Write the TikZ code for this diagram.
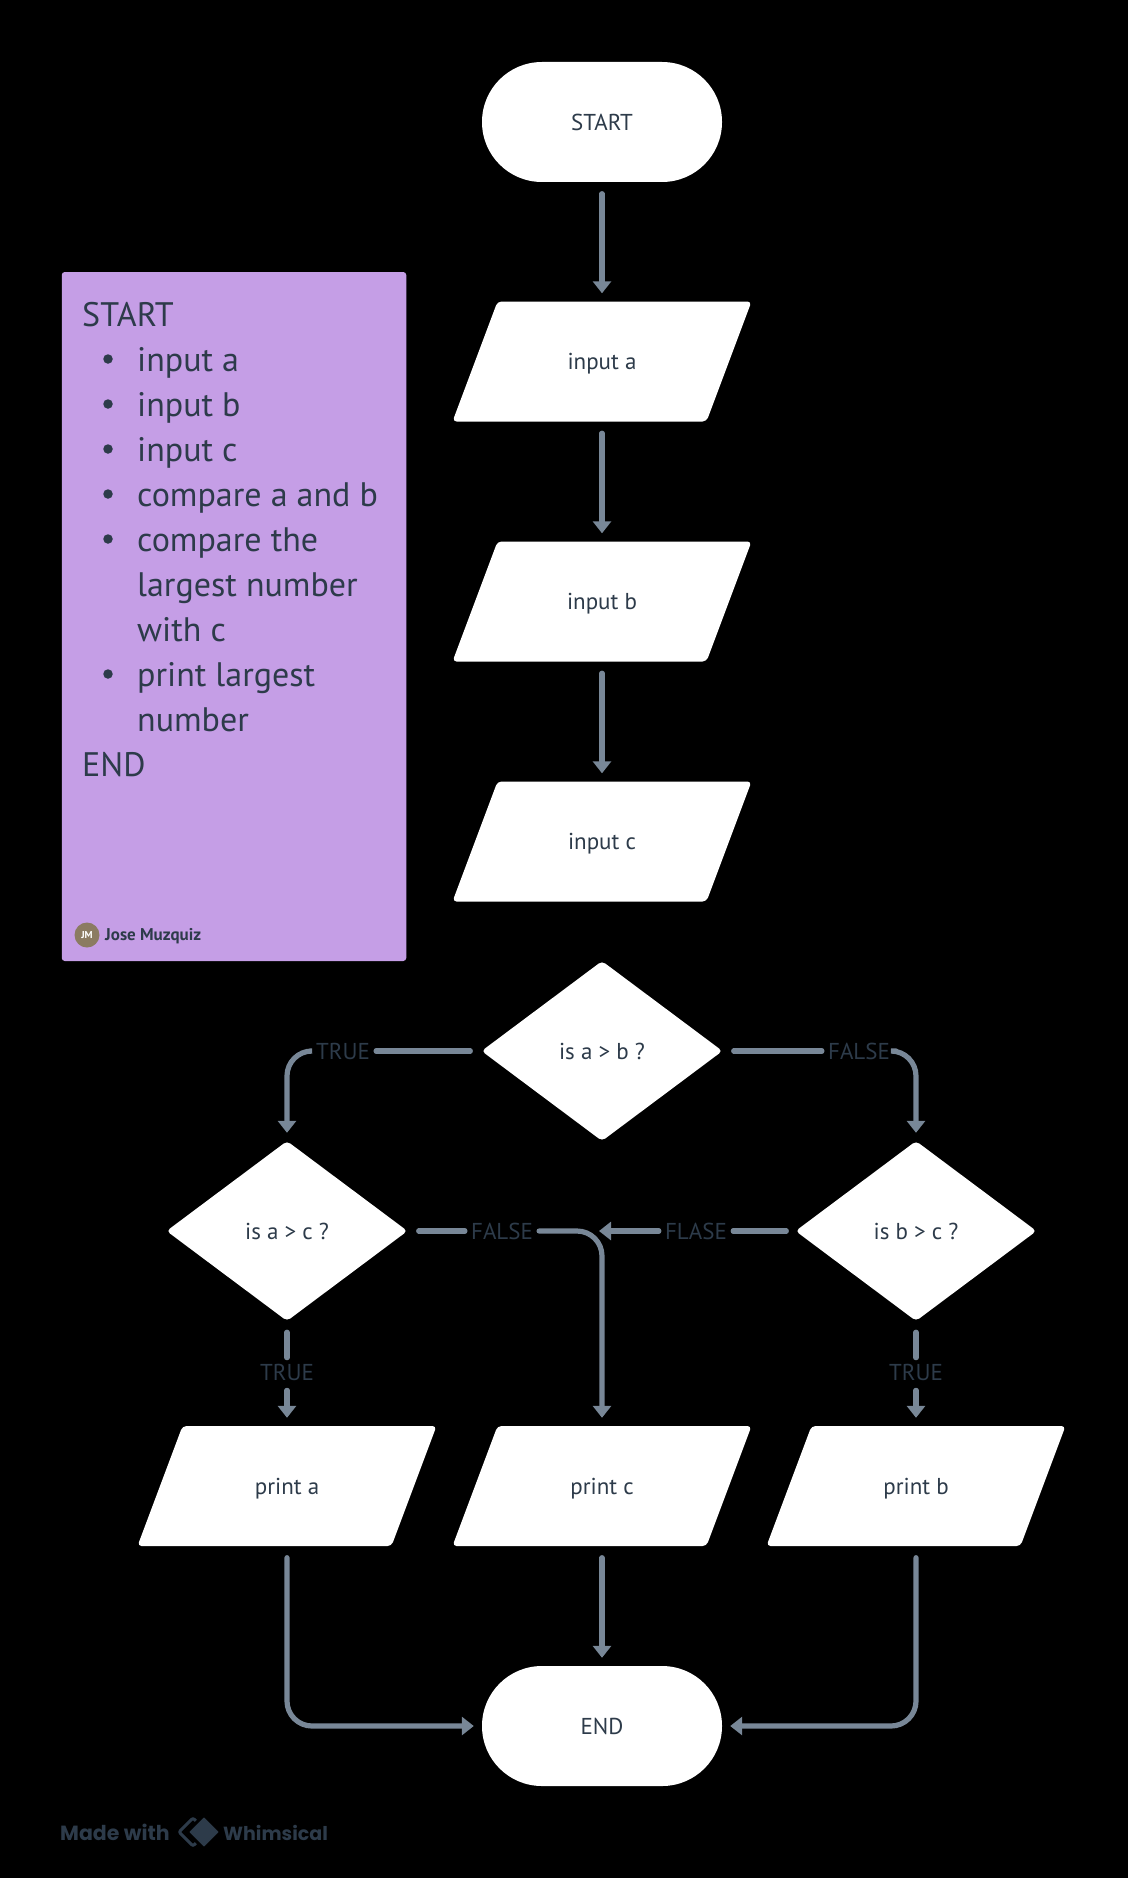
\documentclass[tikz,border=0pt]{standalone}
\usepackage{fontspec}
\setmainfont{PT Sans}
\newfontfamily\logofont{Poppins}
\usetikzlibrary{arrows.meta,shapes.geometric,calc}
\definecolor{ink}{HTML}{2D3B4A}
\definecolor{wire}{HTML}{788797}
\definecolor{lilac}{HTML}{C59EE6}
\definecolor{avatar}{HTML}{8B7B62}
\newcommand{\fs}[1]{\fontsize{#1}{#1}\selectfont}
\tikzset{
  x=1pt,y=-1pt,
  flowtext/.style={text=ink,font=\fs{23},text depth=0pt},
  terminal/.style={flowtext,shape=rectangle,fill=white,minimum width=240pt,minimum height=120pt,rounded corners=59.9pt,inner sep=0pt},
  iobox/.style={flowtext,shape=rectangle,minimum width=299pt,minimum height=120pt,inner sep=0pt,
    path picture={
      \fill[white,rounded corners=4pt]
        ([xshift=45pt]path picture bounding box.north west) --
        (path picture bounding box.north east) --
        ([xshift=-45pt]path picture bounding box.south east) --
        (path picture bounding box.south west) -- cycle;
    }},
  decision/.style={flowtext,shape=diamond,fill=white,minimum width=241pt,minimum height=180pt,inner sep=0pt,rounded corners=4pt},
  wirelab/.style={text=ink,font=\fs{23},inner sep=0pt,text depth=0pt},
  link/.style={draw=wire,line width=5.2pt,line cap=round,shorten <=11.5pt,shorten >=8pt,-{Triangle[width=18pt,length=12pt]}},
  stub/.style={draw=wire,line width=5.2pt,line cap=round,shorten <=11pt,shorten >=6pt},
  from label/.style={link,shorten <=6pt,rounded corners=25pt},
  note/.style={text=ink,font=\fs{34},anchor=base west,inner sep=0pt},
  dot/.style={circle,fill=ink,minimum size=9.5pt,inner sep=0pt},
}
\begin{document}
\begin{tikzpicture}
\useasboundingbox (0,0) rectangle (1128,1878);
\fill[black] (0,0) rectangle (1128,1878);

% note card
\node[fill=lilac,rounded corners=3pt,minimum width=344.5pt,minimum height=689pt,inner sep=0pt] (card) at (234,616.5) {};
\node[note] (n0) at (82,326) {START};
\node[dot] (b1) at (108,359) {}; \node[note] (n1) at (137,371) {input a};
\node[dot] (b2) at (108,404) {}; \node[note] (n2) at (137,416) {input b};
\node[dot] (b3) at (108,449) {}; \node[note] (n3) at (137,461) {input c};
\node[dot] (b4) at (108,494) {}; \node[note] (n4) at (137,506) {compare a and b};
\node[dot] (b5) at (108,539) {}; \node[note] (n5) at (137,551) {compare the};
\node[note] (n6) at (137,596) {largest number};
\node[note] (n7) at (137,641) {with c};
\node[dot] (b6) at (108,674) {}; \node[note] (n8) at (137,686) {print largest};
\node[note] (n9) at (137,731) {number};
\node[note] (n10) at (82,776) {END};
\node[circle,fill=avatar,minimum size=25pt,inner sep=0pt,text=white,font=\bfseries\fs{10}] (av) at (87,935) {JM};
\node[anchor=base west,inner sep=0pt,text=ink,font=\bfseries\fs{17}] (author) at (105,940.5) {Jose Muzquiz};

% flow nodes
\node[terminal] (start) at (602,122) {START};
\node[iobox] (ina) at (602,361.5) {input a};
\node[iobox] (inb) at (602,601.5) {input b};
\node[iobox] (inc) at (602,841.5) {input c};
\node[decision] (ab) at (602,1051) {is a > b ?};
\node[decision] (ac) at (287,1231) {is a > c ?};
\node[decision] (bc) at (916,1231) {is b > c ?};
\node[iobox] (pa) at (287,1486) {print a};
\node[iobox] (pc) at (602,1486) {print c};
\node[iobox] (pb) at (916,1486) {print b};
\node[terminal] (stop) at (602,1726) {END};

% labels
\node[wirelab] (t1) at (343,1051) {TRUE};
\node[wirelab] (f1) at (859,1051) {FALSE};
\node[wirelab] (f2) at (502,1231) {FALSE};
\node[wirelab] (f3) at (696,1231) {FLASE};
\node[wirelab] (t2) at (287,1372) {TRUE};
\node[wirelab] (t3) at (916,1372) {TRUE};
\coordinate (join) at (602,1231);

% connectors
\draw[link] (start) -- (ina);
\draw[link] (ina) -- (inb);
\draw[link] (inb) -- (inc);
\draw[stub] (ab.west) -- (t1.east);
\draw[from label] (t1.west) -| (ac.north);
\draw[stub] (ab.east) -- (f1.west);
\draw[from label] (f1.east) -| (bc.north);
\draw[stub] (ac.east) -- (f2.west);
\draw[from label] (f2.east) -| (pc.north);
\draw[stub,shorten <=9pt] (bc.west) -- (f3.east);
\draw[from label,shorten >=-3pt] (f3.west) -- (join);
\draw[stub] (ac.south) -- (t2.north);
\draw[from label,shorten <=10pt] (t2.south) -- (pa.north);
\draw[stub] (bc.south) -- (t3.north);
\draw[from label,shorten <=10pt] (t3.south) -- (pb.north);
\draw[link] (pc) -- (stop);
\draw[link,rounded corners=25pt] (pa.south) |- (stop.west);
\draw[link,rounded corners=25pt] (pb.south) |- (stop.east);

% maker mark
\node[anchor=base west,inner sep=0pt,text=ink,font=\logofont\bfseries\fs{20.5}] (made) at (60,1840) {Made with};
\node[anchor=base west,inner sep=0pt,text=ink,font=\logofont\bfseries\fs{19}] (whim) at (223,1840) {Whimsical};
\draw[ink,line width=3pt,rounded corners=2pt] (193,1818) -- (207,1832) -- (193,1846) -- (179,1832) -- cycle;
\fill[ink,draw=black,line width=3pt,rounded corners=2pt] (204,1815) -- (221,1832) -- (204,1849) -- (187,1832) -- cycle;
\end{tikzpicture}
\end{document}
